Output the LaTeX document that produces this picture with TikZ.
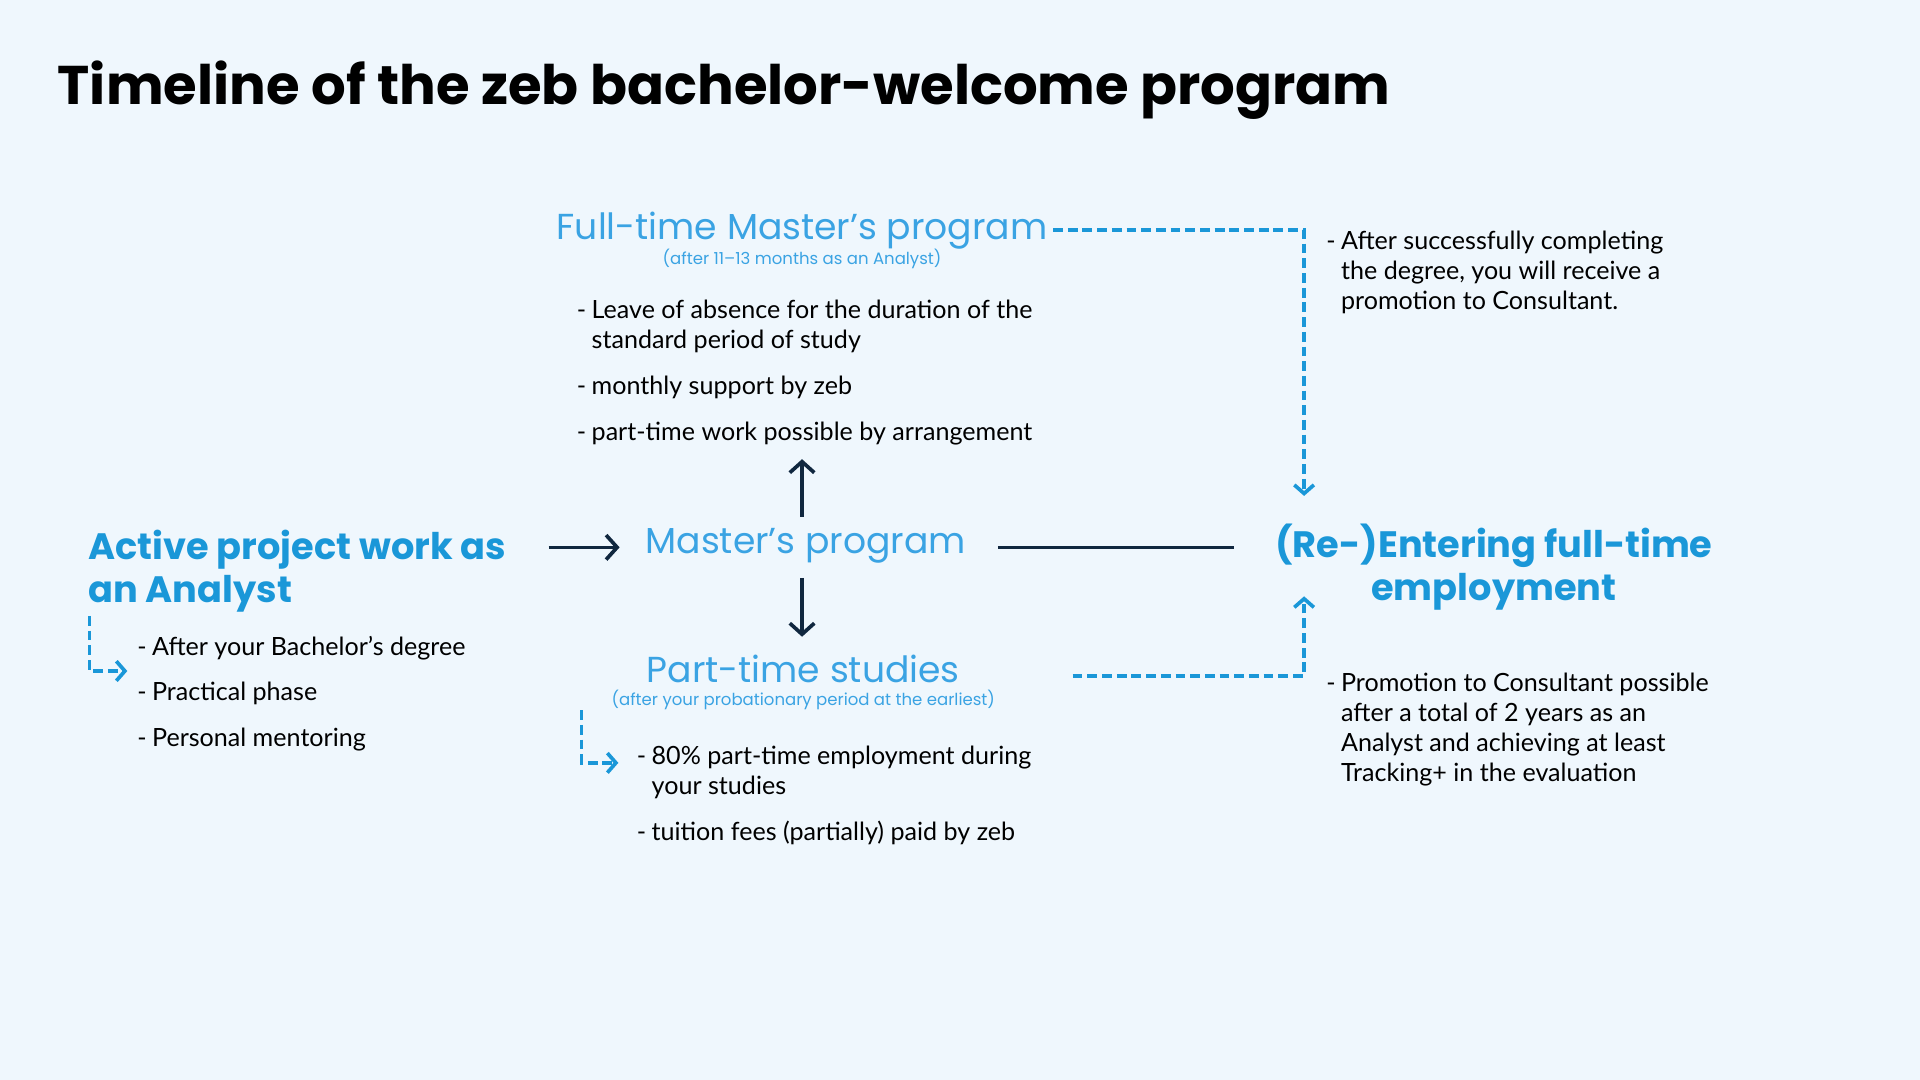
\documentclass[tikz,border=0pt]{standalone}
\usepackage{fontspec}
\setmainfont{Poppins}
\newfontfamily\bodyf{Lato}
\usetikzlibrary{arrows.meta}
\definecolor{bg}{HTML}{EFF7FD}
\definecolor{hblue}{HTML}{1A97D8}
\definecolor{lblue}{HTML}{3AA3E3}
\definecolor{navy}{HTML}{10273F}
\begin{document}
\begin{tikzpicture}[x=1pt,y=-1pt,
  head/.style={font=\fontsize{30}{35}\selectfont\bfseries, text=hblue, inner sep=0},
  lhead/.style={font=\fontsize{29.5}{34}\selectfont, text=lblue, inner sep=0},
  sub/.style={font=\fontsize{13.5}{16}\selectfont, text=lblue, inner sep=0},
  bul/.style={font=\bodyf\fontsize{20.5}{24.5}\selectfont, text=black, inner sep=0, anchor=base west, align=left},
  dashmark/.style={font=\bodyf\fontsize{20.5}{24}\selectfont, inner sep=0, anchor=base east},
  darr/.style={navy, line width=3pt, -{Straight Barb[length=9pt,width=20pt,line width=3pt]}},
  barr/.style={hblue, line width=3pt, dash pattern=on 8pt off 4pt, -{Straight Barb[length=7pt,width=16pt,line width=3pt]}}]
\fill[bg] (0,0) rectangle (1568,882);
\useasboundingbox (0,0) rectangle (1568,882);
\node[font=\fontsize{44.5}{52}\selectfont\bfseries, anchor=base west, inner sep=0] (title) at (47,85) {Timeline of the zeb bachelor-welcome program};

% full-time master
\node[lhead, anchor=base] (ftm) at (655,196) {Full-time Master’s program};
\node[sub, anchor=base] (ftms) at (655,216) {(after 11–13 months as an Analyst)};
\node[bul] (b1) at (483,285) {Leave of absence for the duration of the\\standard period of study};
\node[dashmark] at (479,260) {-};
\node[bul] (b2) at (483,322) {monthly support by zeb};
\node[dashmark] at (479,322) {-};
\node[bul] (b3) at (483,360) {part-time work possible by arrangement};
\node[dashmark] at (479,360) {-};

% master's program
\node[lhead, anchor=center] (mp) at (658,446) {Master’s program};
\coordinate (mpU) at (655,422); \coordinate (mpUt) at (655,375);
\coordinate (mpD) at (655,472); \coordinate (mpDt) at (655,520);
\draw[darr] (mpU) -- (mpUt);
\draw[darr] (mpD) -- (mpDt);

% active project work
\node[head, anchor=base west, align=left] (ap) at (72,492) {Active project work as\\an Analyst};
\coordinate (apR) at (448,447); \coordinate (apRt) at (506,447);
\draw[darr] (apR) -- (apRt);
\coordinate (a1) at (73,503); \coordinate (a1t) at (104,548);
\draw[barr] (a1) |- (a1t);
\node[bul] (c1) at (124,535) {After your Bachelor’s degree};
\node[dashmark] at (120,535) {-};
\node[bul] (c2) at (124,572) {Practical phase};
\node[dashmark] at (120,572) {-};
\node[bul] (c3) at (124,610) {Personal mentoring};
\node[dashmark] at (120,610) {-};

% part-time studies
\node[lhead, anchor=base] (pts) at (656,557) {Part-time studies};
\node[sub, anchor=base] (ptss) at (656,576) {(after your probationary period at the earliest)};
\coordinate (p1) at (475,580); \coordinate (p1t) at (505,623);
\draw[barr] (p1) |- (p1t);
\node[bul] (d1) at (532,649) {80\% part-time employment during\\your studies};
\node[dashmark] at (528,624) {-};
\node[bul] (d2) at (532,686) {tuition fees (partially) paid by zeb};
\node[dashmark] at (528,686) {-};

% re-entering
\node[head, align=center, anchor=base] (re) at (1220,490) {(Re-)Entering full-time\\employment};
\coordinate (mR) at (815,447); \coordinate (reL) at (1008,447);
\draw[navy, line width=3pt] (mR) -- (reL);
\coordinate (t1) at (860,188); \coordinate (t1t) at (1065,405);
\draw[barr] (t1) -| (t1t);
\coordinate (t2) at (876,552); \coordinate (t2t) at (1065,487);
\draw[barr] (t2) -| (t2t);
\node[bul] (e1) at (1095,253) {After successfully completing\\the degree, you will receive a\\promotion to Consultant.};
\node[dashmark] at (1091,204) {-};
\node[bul] (e2) at (1095,638) {Promotion to Consultant possible\\after a total of 2 years as an\\Analyst and achieving at least\\Tracking+ in the evaluation};
\node[dashmark] at (1091,565) {-};
\end{tikzpicture}
\end{document}
